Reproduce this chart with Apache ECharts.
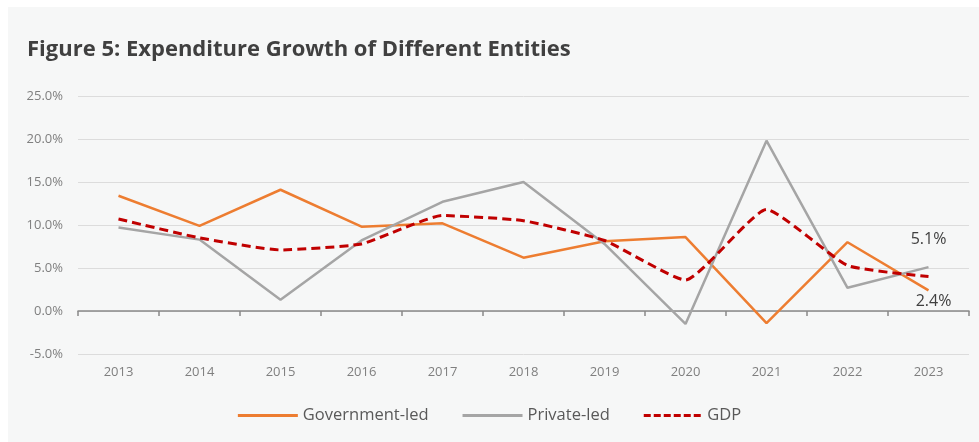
<!DOCTYPE html>
<html><head><meta charset="utf-8">
<script src="https://cdn.jsdelivr.net/npm/echarts@6/dist/echarts.min.js"></script>
<style>html,body{margin:0;padding:0;background:#fff}#c{width:979px;height:442px}</style>
</head><body><div id="c"></div>
<script>
const years = ['2013','2014','2015','2016','2017','2018','2019','2020','2021','2022','2023'];
const governmentLed = [13.4, 9.9, 14.1, 9.8, 10.2, 6.2, 8.1, 8.6, -1.4, 8.0, 2.4];
const privateLed = [9.7, 8.3, 1.3, 8.2, 12.7, 15.0, 7.8, -1.5, 19.8, 2.7, 5.1];
const gdp = [10.7, 8.5, 7.1, 7.8, 11.1, 10.5, 8.2, 3.6, 11.8, 5.3, 4.0];
const yTicks = {min: -5, max: 25, interval: 5};
const titleText = 'Figure 5: Expenditure Growth of Different Entities';
const seriesNames = ['Government-led', 'Private-led', 'GDP'];

const chart = echarts.init(document.getElementById('c'));
const font = '"Open Sans", "Noto Sans", sans-serif';
function endMark(arr, pos, dist, ox) {
  const i = arr.length - 1;
  return {
    symbol: 'circle', symbolSize: 0, silent: true,
    data: [{coord: [years[i], arr[i]], value: arr[i],
      label: {show: true, position: pos, distance: dist, offset: [ox, 0],
        formatter: arr[i].toFixed(1) + '%', color: '#404040', fontSize: 16, fontFamily: font}}]
  };
}
const solidIcon = 'path://M0,0H60V3H0Z';
let dash = '';
for (let x = 0; x < 60; x += 10) dash += 'M' + x + ',0H' + (x + 7) + 'V3H' + x + 'Z';
const dashIcon = 'path://' + dash;
chart.setOption({
  animation: false,
  graphic: [{type: 'rect', shape: {x: 8, y: 7, width: 971, height: 435}, style: {fill: '#f6f7f7'}, z: -10}],
  title: {text: titleText, left: 22, top: 34,
    textStyle: {fontFamily: font, fontWeight: 'bold', fontSize: 22, color: '#404040'}},
  grid: {left: 78, right: 10, top: 96, bottom: 88},
  legend: {bottom: 13, left: 'center', itemWidth: 60, itemHeight: 3, itemGap: 34,
    textStyle: {fontFamily: font, fontSize: 16.5, color: '#595959'},
    data: [
      {name: seriesNames[0], icon: solidIcon, itemStyle: {color: '#ED7D31'}},
      {name: seriesNames[1], icon: solidIcon, itemStyle: {color: '#A5A5A5'}},
      {name: seriesNames[2], icon: dashIcon, itemStyle: {color: '#C00000'}}
    ]},
  xAxis: [{
    type: 'category', data: years, position: 'bottom',
    axisLine: {show: false, onZero: false}, axisTick: {show: false},
    axisLabel: {color: '#7f7f7f', fontSize: 13, fontFamily: font, margin: 12}
  }, {
    type: 'category', data: years, position: 'bottom',
    axisLine: {show: true, onZero: true, lineStyle: {color: '#898989', width: 1.5}},
    axisTick: {show: true, length: 5, lineStyle: {color: '#898989', width: 1.5}},
    axisLabel: {show: false}
  }],
  yAxis: {
    type: 'value', min: yTicks.min, max: yTicks.max, interval: yTicks.interval,
    axisLine: {show: false}, axisTick: {show: false},
    splitLine: {lineStyle: {color: '#dcdcdc', width: 1}},
    axisLabel: {color: '#7f7f7f', fontSize: 13, fontFamily: font, margin: 15,
      formatter: v => v.toFixed(1) + '%'}
  },
  series: [
    {name: seriesNames[0], type: 'line', xAxisIndex: 0, data: governmentLed,
      markPoint: endMark(governmentLed, 'bottom', 3, 5),
      symbol: 'none', lineStyle: {color: '#ED7D31', width: 2.5}, itemStyle: {color: '#ED7D31'}},
    {name: seriesNames[1], type: 'line', xAxisIndex: 0, data: privateLed,
      markPoint: endMark(privateLed, 'top', 20, 0),
      symbol: 'none', lineStyle: {color: '#A5A5A5', width: 2.5}, itemStyle: {color: '#A5A5A5'}},
    {name: seriesNames[2], type: 'line', xAxisIndex: 0, data: gdp, smooth: 0.15,
      symbol: 'none', lineStyle: {color: '#C00000', width: 3, type: [9, 5]}, itemStyle: {color: '#C00000'}}
  ]
});
</script></body></html>
